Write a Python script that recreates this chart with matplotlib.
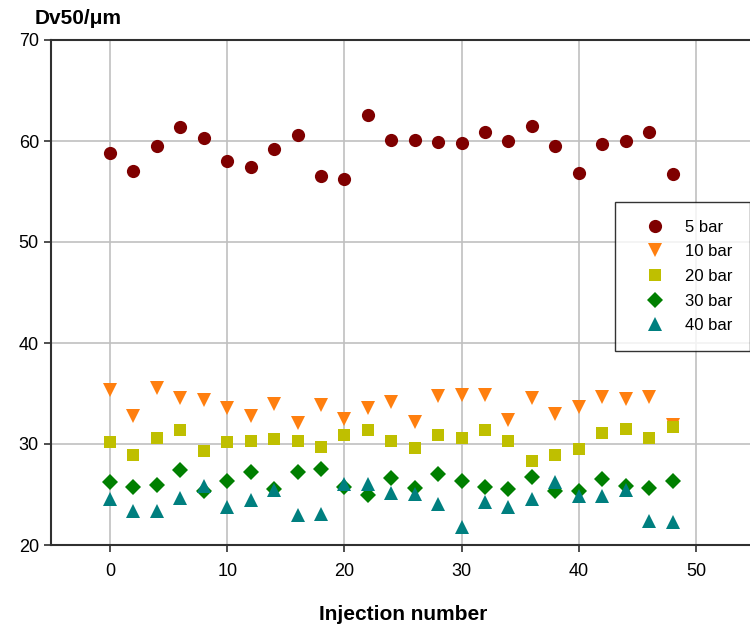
import matplotlib
matplotlib.use("Agg")
import matplotlib.pyplot as plt

plt.rcParams['font.family'] = ['Liberation Sans', 'DejaVu Sans']

injection = [0, 2, 4, 6, 8, 10, 12, 14, 16, 18, 20, 22, 24, 26, 28, 30, 32, 34, 36, 38, 40, 42, 44, 46, 48]

bar5 = [58.8, 57.0, 59.5, 61.4, 60.3, 58.0, 57.4, 59.2, 60.6, 56.5, 56.2, 62.6, 60.1,
        60.1, 59.9, 59.8, 60.9, 60.0, 61.5, 59.5, 56.8, 59.7, 60.0, 60.9, 56.7]
bar10 = [35.3, 32.8, 35.5, 34.6, 34.4, 33.6, 32.8, 34.0, 32.1, 33.9, 32.5, 33.6, 34.2,
         32.2, 34.8, 34.85, 34.9, 32.4, 34.55, 33.0, 33.7, 34.7, 34.45, 34.7, 31.9]
bar20 = [30.15, 28.9, 30.6, 31.4, 29.3, 30.2, 30.3, 30.5, 30.3, 29.7, 30.9, 31.4, 30.3,
         29.6, 30.9, 30.6, 31.4, 30.3, 28.35, 28.9, 29.5, 31.1, 31.5, 30.6, 31.7]
bar30 = [26.2, 25.7, 25.9, 27.45, 25.3, 26.3, 27.2, 25.5, 27.25, 27.5, 25.7, 25.0, 26.6,
         25.6, 27.0, 26.3, 25.7, 25.5, 26.7, 25.3, 25.3, 26.5, 25.8, 25.6, 26.3]
bar40 = [24.6, 23.4, 23.4, 24.7, 25.8, 23.8, 24.5, 25.45, 23.0, 23.05, 26.0, 26.0, 25.1,
         25.05, 24.1, 21.75, 24.3, 23.8, 24.55, 26.2, 24.85, 24.85, 25.45, 22.4, 22.3]

labels = ['5 bar', '10 bar', '20 bar', '30 bar', '40 bar']
series = [bar5, bar10, bar20, bar30, bar40]
colors = ['#7f0000', '#ff7f0f', '#bfbf00', '#007f00', '#007f7f']
markers = ['o', 'v', 's', 'D', '^']
sizes = [9.5, 9.5, 8.5, 8.5, 9.5]

fig = plt.figure(figsize=(7.5, 6.28), dpi=100)
ax = fig.add_axes([51.4 / 750, 83 / 628, 703.2 / 750, 505 / 628])

for y, lab, c, m, s in zip(series, labels, colors, markers, sizes):
    ax.plot(injection, y, linestyle='none', marker=m, color=c, markersize=s,
            markeredgewidth=0, label=lab, zorder=3)

ax.set_xlim(-5, 55)
ax.set_ylim(20, 70)
ax.set_xticks([0, 10, 20, 30, 40, 50])
ax.set_yticks([20, 30, 40, 50, 60, 70])
ax.grid(True, color='#c0c0c0', linewidth=1.2, zorder=0)
ax.set_axisbelow(True)
for sp in ax.spines.values():
    sp.set_color('#303030')
    sp.set_linewidth(1.5)
ax.tick_params(direction='out', length=5, width=1.2, labelsize=13, colors='#303030',
               labelcolor='black')
ax.tick_params(axis='x', pad=8)
ax.tick_params(axis='y', pad=4)

ax.set_xlabel('Injection number', fontsize=15, fontweight='bold')
ax.xaxis.set_label_coords(0.5, -(614 - 545) / 505)
ax.xaxis.label.set_va('center')
fig.text(35 / 750, 1 - 19 / 628, 'Dv50/\u03bcm', fontsize=15, fontweight='bold',
         ha='left', va='center')

leg = ax.legend(loc='upper left', bbox_to_anchor=(615 / 750, 1 - 202 / 628),
                bbox_transform=fig.transFigure, frameon=True, fancybox=False,
                edgecolor='black', fontsize=12, handletextpad=0.45, labelspacing=0.58,
                borderpad=1.05, handlelength=2.7, borderaxespad=0)
leg.get_frame().set_linewidth(1.0)

fig.savefig('out.png', dpi=100)
